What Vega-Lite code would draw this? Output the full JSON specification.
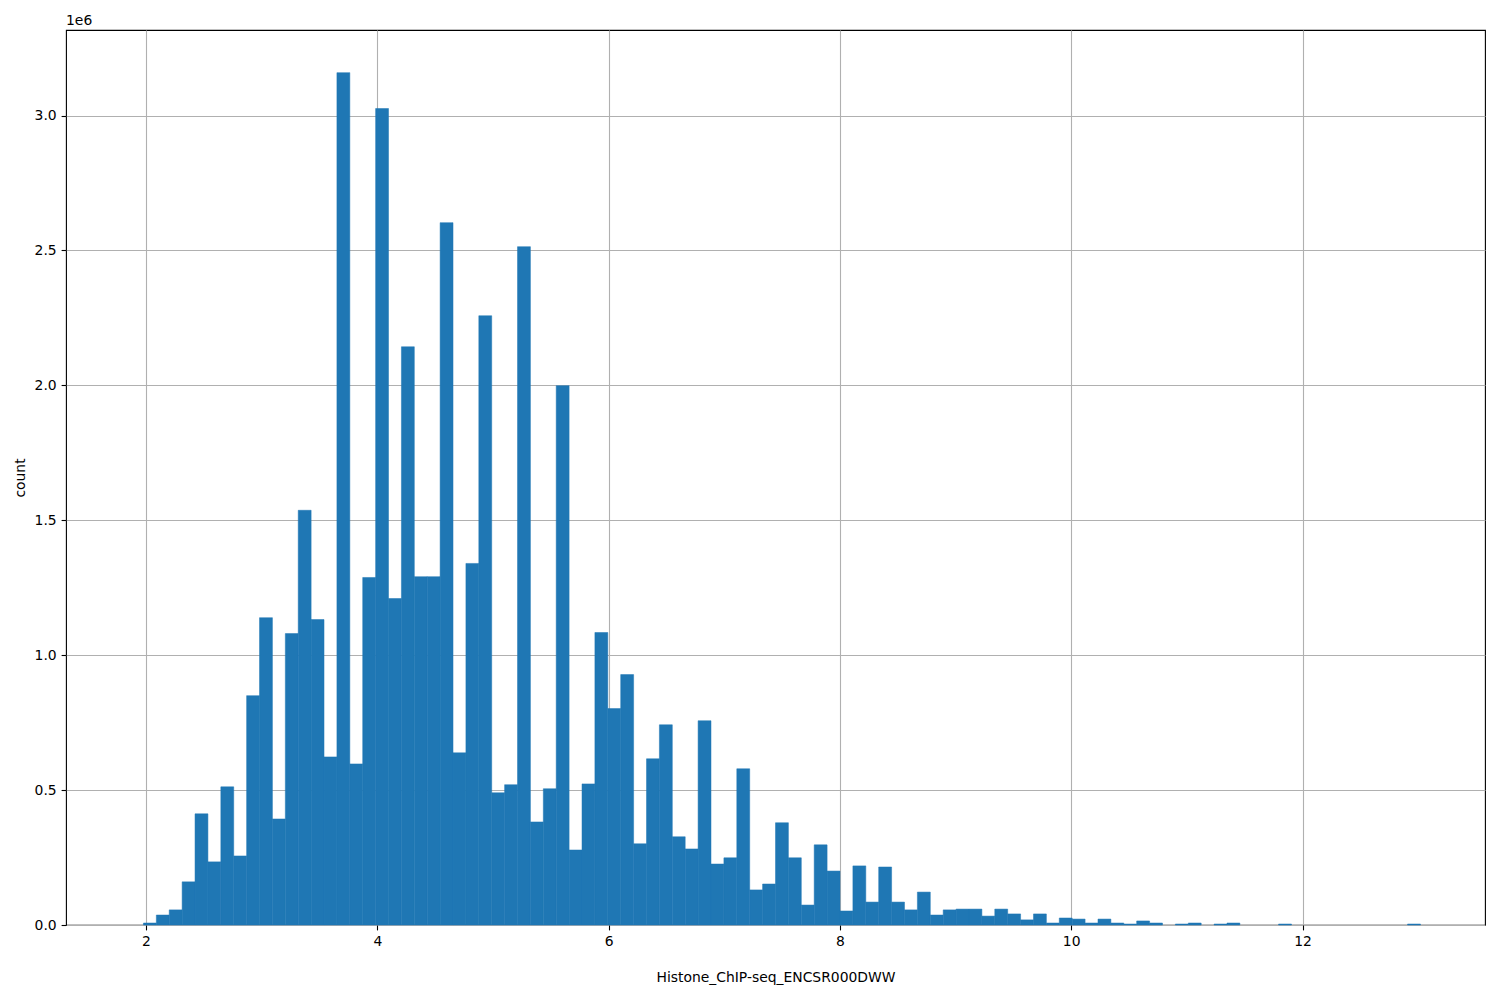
{
  "$schema": "https://vega.github.io/schema/vega-lite/v6.json",
  "width": 1419,
  "height": 895,
  "autosize": "none",
  "padding": {"left": 66, "top": 30, "right": 15, "bottom": 75},
  "background": "white",
  "title": {"text": "1e6", "anchor": "start", "frame": "group", "fontSize": 13.9, "fontWeight": "normal", "font": "DejaVu Sans", "offset": 2, "color": "black"},
  "config": {
    "view": {"stroke": "black", "strokeWidth": 1.1},
    "axis": {
      "labelFont": "DejaVu Sans", "labelFontSize": 13.9, "labelColor": "black",
      "titleFont": "DejaVu Sans", "titleFontSize": 13.9, "titleFontWeight": "normal", "titleColor": "black",
      "tickColor": "black", "tickSize": 4.9, "tickWidth": 1.1, "labelPadding": 4.9,
      "gridColor": "#b0b0b0", "gridWidth": 1.1, "grid": true, "domain": false, "zindex": 1
    }
  },
  "data": {"values": [
    {"start": 1.8660, "end": 1.9775, "count": 0},
    {"start": 1.9775, "end": 2.0891, "count": 7400},
    {"start": 2.0891, "end": 2.2006, "count": 37000},
    {"start": 2.2006, "end": 2.3122, "count": 56000},
    {"start": 2.3122, "end": 2.4237, "count": 160000},
    {"start": 2.4237, "end": 2.5352, "count": 412000},
    {"start": 2.5352, "end": 2.6468, "count": 234000},
    {"start": 2.6468, "end": 2.7583, "count": 512000},
    {"start": 2.7583, "end": 2.8699, "count": 256000},
    {"start": 2.8699, "end": 2.9814, "count": 850000},
    {"start": 2.9814, "end": 3.0929, "count": 1139000},
    {"start": 3.0929, "end": 3.2045, "count": 393000},
    {"start": 3.2045, "end": 3.3160, "count": 1080000},
    {"start": 3.3160, "end": 3.4276, "count": 1537000},
    {"start": 3.4276, "end": 3.5391, "count": 1132000},
    {"start": 3.5391, "end": 3.6506, "count": 623000},
    {"start": 3.6506, "end": 3.7622, "count": 3159000},
    {"start": 3.7622, "end": 3.8737, "count": 597000},
    {"start": 3.8737, "end": 3.9853, "count": 1288000},
    {"start": 3.9853, "end": 4.0968, "count": 3026000},
    {"start": 4.0968, "end": 4.2083, "count": 1210000},
    {"start": 4.2083, "end": 4.3199, "count": 2143000},
    {"start": 4.3199, "end": 4.4314, "count": 1291000},
    {"start": 4.4314, "end": 4.5430, "count": 1291000},
    {"start": 4.5430, "end": 4.6545, "count": 2603000},
    {"start": 4.6545, "end": 4.7660, "count": 638000},
    {"start": 4.7660, "end": 4.8776, "count": 1340000},
    {"start": 4.8776, "end": 4.9891, "count": 2258000},
    {"start": 4.9891, "end": 5.1007, "count": 490000},
    {"start": 5.1007, "end": 5.2122, "count": 520000},
    {"start": 5.2122, "end": 5.3237, "count": 2514000},
    {"start": 5.3237, "end": 5.4353, "count": 382000},
    {"start": 5.4353, "end": 5.5468, "count": 505000},
    {"start": 5.5468, "end": 5.6584, "count": 1999000},
    {"start": 5.6584, "end": 5.7699, "count": 278000},
    {"start": 5.7699, "end": 5.8814, "count": 523000},
    {"start": 5.8814, "end": 5.9930, "count": 1084000},
    {"start": 5.9930, "end": 6.1045, "count": 802000},
    {"start": 6.1045, "end": 6.2161, "count": 928000},
    {"start": 6.2161, "end": 6.3276, "count": 301000},
    {"start": 6.3276, "end": 6.4391, "count": 616000},
    {"start": 6.4391, "end": 6.5507, "count": 742000},
    {"start": 6.5507, "end": 6.6622, "count": 327000},
    {"start": 6.6622, "end": 6.7738, "count": 282000},
    {"start": 6.7738, "end": 6.8853, "count": 757000},
    {"start": 6.8853, "end": 6.9968, "count": 226000},
    {"start": 6.9968, "end": 7.1084, "count": 249000},
    {"start": 7.1084, "end": 7.2199, "count": 579000},
    {"start": 7.2199, "end": 7.3315, "count": 130000},
    {"start": 7.3315, "end": 7.4430, "count": 152000},
    {"start": 7.4430, "end": 7.5545, "count": 379000},
    {"start": 7.5545, "end": 7.6661, "count": 249000},
    {"start": 7.6661, "end": 7.7776, "count": 74000},
    {"start": 7.7776, "end": 7.8892, "count": 297000},
    {"start": 7.8892, "end": 8.0007, "count": 200000},
    {"start": 8.0007, "end": 8.1122, "count": 52000},
    {"start": 8.1122, "end": 8.2238, "count": 219000},
    {"start": 8.2238, "end": 8.3353, "count": 85000},
    {"start": 8.3353, "end": 8.4469, "count": 215000},
    {"start": 8.4469, "end": 8.5584, "count": 85000},
    {"start": 8.5584, "end": 8.6699, "count": 56000},
    {"start": 8.6699, "end": 8.7815, "count": 122000},
    {"start": 8.7815, "end": 8.8930, "count": 37000},
    {"start": 8.8930, "end": 9.0046, "count": 56000},
    {"start": 9.0046, "end": 9.1161, "count": 59000},
    {"start": 9.1161, "end": 9.2276, "count": 59000},
    {"start": 9.2276, "end": 9.3392, "count": 33000},
    {"start": 9.3392, "end": 9.4507, "count": 59000},
    {"start": 9.4507, "end": 9.5623, "count": 41000},
    {"start": 9.5623, "end": 9.6738, "count": 19000},
    {"start": 9.6738, "end": 9.7853, "count": 41000},
    {"start": 9.7853, "end": 9.8969, "count": 7400},
    {"start": 9.8969, "end": 10.0084, "count": 26000},
    {"start": 10.0084, "end": 10.1200, "count": 22000},
    {"start": 10.1200, "end": 10.2315, "count": 7400},
    {"start": 10.2315, "end": 10.3430, "count": 22000},
    {"start": 10.3430, "end": 10.4546, "count": 7400},
    {"start": 10.4546, "end": 10.5661, "count": 3700},
    {"start": 10.5661, "end": 10.6777, "count": 15000},
    {"start": 10.6777, "end": 10.7892, "count": 7400},
    {"start": 10.7892, "end": 10.9007, "count": 0},
    {"start": 10.9007, "end": 11.0123, "count": 3700},
    {"start": 11.0123, "end": 11.1238, "count": 7400},
    {"start": 11.1238, "end": 11.2354, "count": 0},
    {"start": 11.2354, "end": 11.3469, "count": 3700},
    {"start": 11.3469, "end": 11.4584, "count": 7400},
    {"start": 11.4584, "end": 11.5700, "count": 0},
    {"start": 11.5700, "end": 11.6815, "count": 0},
    {"start": 11.6815, "end": 11.7931, "count": 0},
    {"start": 11.7931, "end": 11.9046, "count": 3700},
    {"start": 11.9046, "end": 12.0161, "count": 0},
    {"start": 12.0161, "end": 12.1277, "count": 0},
    {"start": 12.1277, "end": 12.2392, "count": 0},
    {"start": 12.2392, "end": 12.3508, "count": 0},
    {"start": 12.3508, "end": 12.4623, "count": 0},
    {"start": 12.4623, "end": 12.5738, "count": 0},
    {"start": 12.5738, "end": 12.6854, "count": 0},
    {"start": 12.6854, "end": 12.7969, "count": 0},
    {"start": 12.7969, "end": 12.9085, "count": 0},
    {"start": 12.9085, "end": 13.0200, "count": 3700}
  ]},
  "transform": [{"filter": "datum.count > 0"}],
  "mark": {"type": "bar", "color": "#1f77b4", "orient": "vertical", "stroke": "#1f77b4", "strokeWidth": 0.5},
  "encoding": {
    "x": {"field": "start", "type": "quantitative",
      "scale": {"domain": [1.308, 13.578], "nice": false, "zero": false, "padding": 0},
      "axis": {"values": [2, 4, 6, 8, 10, 12], "title": "Histone_ChIP-seq_ENCSR000DWW", "titlePadding": 22, "labelFlush": false}},
    "x2": {"field": "end"},
    "y": {"field": "count", "type": "quantitative",
      "scale": {"domain": [0, 3317000], "nice": false, "padding": 0},
      "axis": {"values": [0, 500000, 1000000, 1500000, 2000000, 2500000, 3000000], "labelExpr": "format(datum.value / 1000000, '.1f')", "title": "count", "titlePadding": 7}},
    "y2": {"datum": 0}
  }
}
